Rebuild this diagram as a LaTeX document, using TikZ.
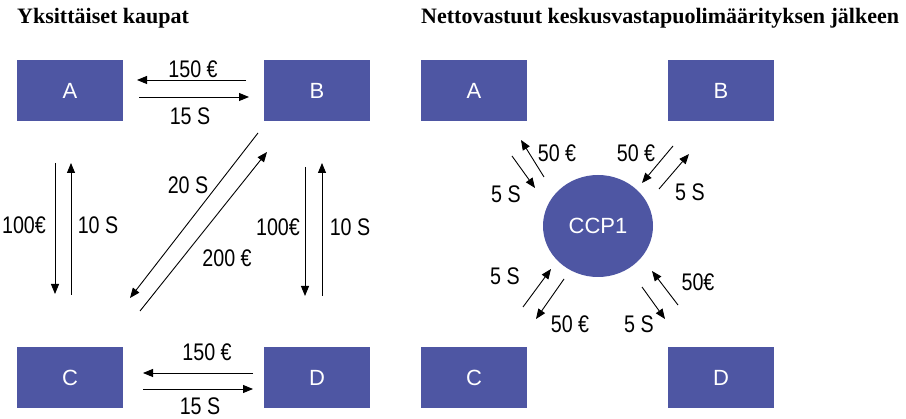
\documentclass[tikz,border=0pt]{standalone}
\usepackage{fontspec}
\setmainfont{Liberation Serif}
\newfontfamily\boxfont{Liberation Sans}
\newfontfamily\labfont[FakeStretch=0.82]{Liberation Sans}
\usetikzlibrary{arrows.meta,shapes.geometric}
\definecolor{boxblue}{RGB}{78,86,163}
\begin{document}
\begin{tikzpicture}[x=1pt,y=-1pt,
  party/.style={fill=boxblue,draw=none,minimum width=106pt,minimum height=61pt,inner sep=0pt,text=white,font=\boxfont\fontsize{22}{26}\selectfont},
  flow/.style={line width=0.9pt,-{Triangle[length=10pt,width=8pt]}},
  lab/.style={font=\labfont\fontsize{24}{28}\selectfont,inner sep=0pt},
  ttl/.style={font=\bfseries\fontsize{22}{26}\selectfont,anchor=base west,inner sep=0pt}]
\useasboundingbox (0,0) rectangle (906,419);
% titles
\node[ttl] (t1) at (17,24) {Yksittäiset kaupat};
\node[ttl] (t2) at (421,24) {Nettovastuut keskusvastapuolimäärityksen jälkeen};
% left boxes
\node[party] (A) at (70,90.5) {A};
\node[party] (B) at (317,90.5) {B};
\node[party] (C) at (70,377.5) {C};
\node[party] (D) at (317,377.5) {D};
% right boxes
\node[party] (A2) at (474,90.5) {A};
\node[party] (B2) at (721,90.5) {B};
\node[party] (C2) at (474,377.5) {C};
\node[party] (D2) at (721,377.5) {D};
\node[ellipse,fill=boxblue,minimum width=110pt,minimum height=102pt,inner sep=0pt,text=white,font=\boxfont\fontsize{22}{26}\selectfont] (CCP) at (598,226) {CCP1};
% left arrows: A-B
\coordinate (ab1) at (246,80); \coordinate (ab2) at (137,80);
\coordinate (ab3) at (139,97); \coordinate (ab4) at (249,97);
\draw[flow] (ab1) -- (ab2);
\draw[flow] (ab3) -- (ab4);
\node[lab] (l1) at (193,69) {150 €};
\node[lab] (l2) at (190,116) {15 S};
% A-C
\coordinate (ac1) at (55,163); \coordinate (ac2) at (55,294);
\coordinate (ac3) at (71,295); \coordinate (ac4) at (71,163);
\draw[flow] (ac1) -- (ac2);
\draw[flow] (ac3) -- (ac4);
\node[lab] (l3) at (24,225) {100€};
\node[lab] (l4) at (98,225) {10 S};
% B-C diagonal
\coordinate (bc1) at (258,133); \coordinate (bc2) at (130,298);
\coordinate (bc3) at (140,311); \coordinate (bc4) at (267,152);
\draw[flow] (bc1) -- (bc2);
\draw[flow] (bc3) -- (bc4);
\node[lab] (l5) at (188,185) {20 S};
\node[lab] (l6) at (227,258) {200 €};
% B-D
\coordinate (bd1) at (305,167); \coordinate (bd2) at (305,296);
\coordinate (bd3) at (322,296); \coordinate (bd4) at (322,163);
\draw[flow] (bd1) -- (bd2);
\draw[flow] (bd3) -- (bd4);
\node[lab] (l7) at (278,227) {100€};
\node[lab] (l8) at (350,227) {10 S};
% C-D
\coordinate (cd1) at (253,373); \coordinate (cd2) at (143,373);
\coordinate (cd3) at (143,389); \coordinate (cd4) at (253,389);
\draw[flow] (cd1) -- (cd2);
\draw[flow] (cd3) -- (cd4);
\node[lab] (l9) at (207,352) {150 €};
\node[lab] (l10) at (200,406) {15 S};
% right arrows
\coordinate (r1) at (544,177); \coordinate (r2) at (521,140);
\coordinate (r3) at (512,156); \coordinate (r4) at (535,188);
\draw[flow] (r1) -- (r2);
\draw[flow] (r3) -- (r4);
\node[lab] (m1) at (557,153) {50 €};
\node[lab] (m2) at (506,194) {5 S};
\coordinate (r5) at (673,146); \coordinate (r6) at (642,183);
\coordinate (r7) at (659,189); \coordinate (r8) at (689,154);
\draw[flow] (r5) -- (r6);
\draw[flow] (r7) -- (r8);
\node[lab] (m3) at (636,153) {50 €};
\node[lab] (m4) at (690,192) {5 S};
\coordinate (r9) at (523,307); \coordinate (r10) at (551,269);
\coordinate (r11) at (564,279); \coordinate (r12) at (536,319);
\draw[flow] (r9) -- (r10);
\draw[flow] (r11) -- (r12);
\node[lab] (m5) at (505,276) {5 S};
\node[lab] (m6) at (570,324) {50 €};
\coordinate (r13) at (678,305); \coordinate (r14) at (652,271);
\coordinate (r15) at (642,287); \coordinate (r16) at (665,319);
\draw[flow] (r13) -- (r14);
\draw[flow] (r15) -- (r16);
\node[lab] (m7) at (698,282) {50€};
\node[lab] (m8) at (639,324) {5 S};
\end{tikzpicture}
\end{document}
